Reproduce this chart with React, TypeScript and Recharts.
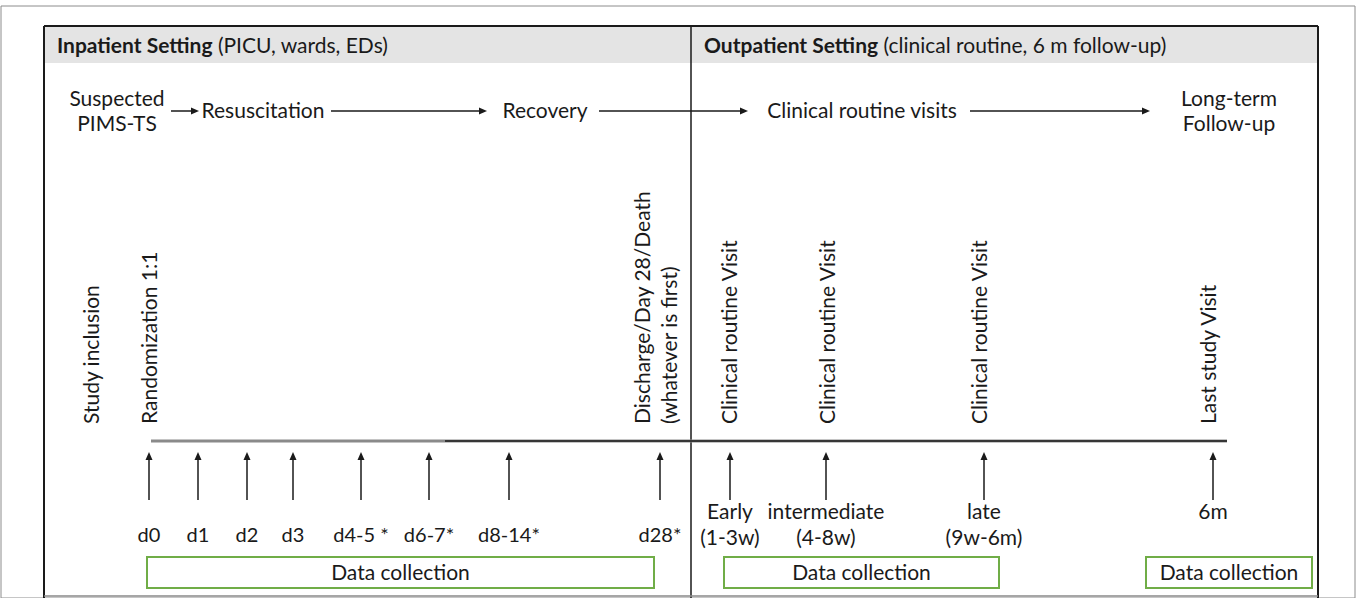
import React from 'react'
import { ScatterChart, Scatter, XAxis, YAxis, ReferenceLine, ReferenceArea } from 'recharts'

const W = 1357
const H = 598
const FONT = 'Lato, "Open Sans", sans-serif'
const INK = '#1a1a1a'
const GREEN = '#70ad47'

// section borders of the study flow (left edge, divider, right edge)
const sectionEdges = [44, 691, 1318]
const sectionTitles = ['Inpatient Setting', 'Outpatient Setting']
const sectionNotes = ['(PICU, wards, EDs)', '(clinical routine, 6 m follow-up)']

// clinical phases along the top row
const phaseLabels = [['Suspected', 'PIMS-TS'], ['Resuscitation'], ['Recovery'], ['Clinical routine visits'], ['Long-term', 'Follow-up']]
const phaseX = [117, 263, 545, 862, 1229]
const phaseArrowFrom = [171, 331, 599, 970]
const phaseArrowTo = [199, 487, 748, 1150]

// inpatient assessment days
const dayLabels = ['d0', 'd1', 'd2', 'd3', 'd4-5 *', 'd6-7*', 'd8-14*', 'd28*']
const dayX = [149, 198, 247, 293, 361, 429, 509, 660]

// outpatient visits
const visitLabels = ['Early', 'intermediate', 'late', '6m']
const visitWindows = ['(1-3w)', '(4-8w)', '(9w-6m)', '']
const visitX = [730, 826, 984, 1213]

// vertical milestone captions above the timeline
const milestoneLabels = [
  ['Study inclusion'],
  ['Randomization 1:1'],
  ['Discharge/Day 28/Death', '(whatever is first)'],
  ['Clinical routine Visit'],
  ['Clinical routine Visit'],
  ['Clinical routine Visit'],
  ['Last study Visit'],
]
const milestoneX = [92, 150, 656, 730, 828, 980, 1209]

// data collection windows
const collectionFrom = [147, 724, 1146]
const collectionTo = [654, 999, 1312]

const HEADER_Y = 46
const FLOW_Y = 111
const TIMELINE_Y = 441
const ARROW_TAIL = 500
const ARROW_TIP = 452
const DAY_Y = 535
const VISIT_Y = 512
const MILESTONE_BASE = 424
const BOX_TOP = 557
const BOX_BOTTOM = 588

const Arrow = (p: any) => {
  const { x1, y1, x2, y2 } = p
  const dx = x2 - x1
  const dy = y2 - y1
  const len = Math.hypot(dx, dy) || 1
  const ux = dx / len
  const uy = dy / len
  const hl = 8
  const hw = 3.5
  const bx = x2 - ux * hl
  const by = y2 - uy * hl
  return (
    <g>
      <line x1={x1} y1={y1} x2={bx} y2={by} stroke={INK} strokeWidth={1.5} />
      <polygon points={`${x2},${y2} ${bx - uy * hw},${by + ux * hw} ${bx + uy * hw},${by - ux * hw}`} fill={INK} />
    </g>
  )
}

const StackText = (p: any) => {
  const lines: string[] = p.payload.lines
  const gap = p.payload.gap ?? 26
  const y0 = p.cy - ((lines.length - 1) * gap) / 2
  return (
    <text textAnchor="middle" fontFamily={FONT} fontSize={p.payload.size ?? 21} fill={INK}>
      {lines.map((l, i) => (
        <tspan key={i} x={p.cx} y={y0 + i * gap} dy="0.35em">
          {l}
        </tspan>
      ))}
    </text>
  )
}

const HeaderText = (p: any) => (
  <text x={p.cx} y={p.cy} dy="0.35em" fontFamily={FONT} fontSize={21} fill={INK}>
    <tspan fontWeight={700}>{p.payload.title}</tspan>
    <tspan> {p.payload.note}</tspan>
  </text>
)

const RotText = (p: any) => {
  const lines: string[] = p.payload.lines
  const gap = 27
  const x0 = p.cx - ((lines.length - 1) * gap) / 2
  return (
    <g>
      {lines.map((l, i) => (
        <text
          key={i}
          transform={`translate(${x0 + i * gap},${p.cy}) rotate(-90)`}
          dy="0.35em"
          textAnchor="start"
          fontFamily={FONT}
          fontSize={21}
          fill={INK}
        >
          {l}
        </text>
      ))}
    </g>
  )
}

export default function App() {
  const headerData = sectionTitles.map((title, i) => ({ x: sectionEdges[i] + 13, y: HEADER_Y, title, note: sectionNotes[i] }))
  const phaseData = phaseLabels.map((lines, i) => ({ x: phaseX[i], y: FLOW_Y, lines, gap: 25 }))
  const dayData = dayLabels.map((l, i) => ({ x: dayX[i], y: DAY_Y, lines: [l], size: 20 }))
  const visitData = visitLabels.map((l, i) => ({
    x: visitX[i],
    y: VISIT_Y + (visitWindows[i] ? 13 : 0),
    lines: visitWindows[i] ? [l, visitWindows[i]] : [l],
  }))
  const milestoneData = milestoneLabels.map((lines, i) => ({ x: milestoneX[i], y: MILESTONE_BASE, lines }))
  const boxData = collectionFrom.map((from, i) => ({
    x: (from + collectionTo[i]) / 2,
    y: (BOX_TOP + BOX_BOTTOM) / 2,
    lines: ['Data collection'],
  }))
  const arrowX = [...dayX, ...visitX]

  return (
    <div style={{ position: 'absolute', left: 0, top: 0, width: W, height: H, background: '#fff' }}>
      <ScatterChart width={W} height={H} margin={{ top: 0, right: 0, bottom: 0, left: 0 }}>
        <XAxis type="number" dataKey="x" domain={[0, W]} hide allowDataOverflow />
        <YAxis type="number" dataKey="y" domain={[0, H]} reversed hide allowDataOverflow />

        {/* outer frame of the figure */}
        <ReferenceArea x1={1} x2={1355} y1={6} y2={H} fill="none" stroke="#8c8c8c" strokeWidth={1} ifOverflow="visible" />
        <ReferenceArea x1={sectionEdges[0]} x2={sectionEdges[2]} y1={26} y2={63} fill="#e4e4e4" fillOpacity={1} stroke="none" />
        <ReferenceLine segment={[{ x: sectionEdges[0], y: 26 }, { x: sectionEdges[2], y: 26 }]} stroke={INK} strokeWidth={2} />
        <ReferenceLine segment={[{ x: sectionEdges[0], y: 26 }, { x: sectionEdges[0], y: H }]} stroke={INK} strokeWidth={2} />
        <ReferenceLine segment={[{ x: sectionEdges[2], y: 26 }, { x: sectionEdges[2], y: H }]} stroke={INK} strokeWidth={2} />
        <ReferenceLine segment={[{ x: sectionEdges[1], y: 26 }, { x: sectionEdges[1], y: H }]} stroke={INK} strokeWidth={1.5} />
        <ReferenceLine segment={[{ x: sectionEdges[0], y: 596 }, { x: sectionEdges[2], y: 596 }]} stroke="#888" strokeWidth={1.5} />

        {/* timeline */}
        <ReferenceLine segment={[{ x: 151, y: TIMELINE_Y }, { x: 1227, y: TIMELINE_Y }]} stroke="#8a8a8a" strokeWidth={3} />
        <ReferenceLine segment={[{ x: 445, y: TIMELINE_Y }, { x: 1227, y: TIMELINE_Y }]} stroke={INK} strokeWidth={1.6} />

        {phaseArrowFrom.map((from, i) => (
          <ReferenceLine key={`pa${i}`} segment={[{ x: from, y: FLOW_Y }, { x: phaseArrowTo[i], y: FLOW_Y }]} shape={Arrow} />
        ))}
        {arrowX.map((x, i) => (
          <ReferenceLine key={`va${i}`} segment={[{ x, y: ARROW_TAIL }, { x, y: ARROW_TIP }]} shape={Arrow} />
        ))}

        {collectionFrom.map((from, i) => (
          <ReferenceArea
            key={`box${i}`}
            x1={from}
            x2={collectionTo[i]}
            y1={BOX_TOP}
            y2={BOX_BOTTOM}
            fill="#fff"
            fillOpacity={1}
            stroke={GREEN}
            strokeWidth={2}
          />
        ))}

        <Scatter data={headerData} shape={HeaderText} isAnimationActive={false} />
        <Scatter data={phaseData} shape={StackText} isAnimationActive={false} />
        <Scatter data={dayData} shape={StackText} isAnimationActive={false} />
        <Scatter data={visitData} shape={StackText} isAnimationActive={false} />
        <Scatter data={milestoneData} shape={RotText} isAnimationActive={false} />
        <Scatter data={boxData} shape={StackText} isAnimationActive={false} />
      </ScatterChart>
    </div>
  )
}
